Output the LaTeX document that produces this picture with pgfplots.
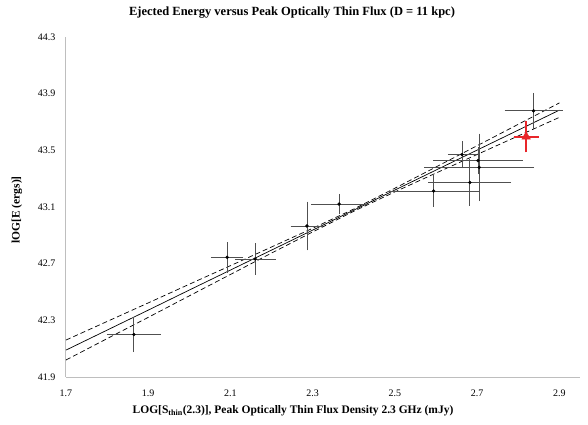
\documentclass[border=0pt]{standalone}
\usepackage{fontspec}
\setmainfont{Liberation Serif}
\usepackage{pgfplots}
\usepackage{pgfplotstable}
\pgfplotsset{compat=1.18}

\pgfplotstableread{
x      y       ex      ey
1.865  42.200  0.057   0.100
2.092  42.745  0.031   0.083
2.160  42.733  0.041   0.085
2.286  42.966  0.031   0.148
2.364  43.121  0.0585  0.047
2.594  43.213  0.103   0.088
2.682  43.273  0.092   0.140
2.663  43.470  0.026   0.070
2.702  43.427  0.100   0.070
2.705  43.380  0.125   0.213
2.837  43.779  0.062   0.102
}\datatable

\pgfplotstableread{
x      y       ex      ey
2.819  43.596  0.022   0.085
}\redtable

\pgfplotstableread{
x    fit     up      lo
1.7  42.090  42.161  42.020
1.8  42.231  42.292  42.171
1.9  42.372  42.423  42.321
2.0  42.514  42.555  42.473
2.1  42.655  42.686  42.624
2.2  42.796  42.818  42.775
2.3  42.937  42.950  42.924
2.4  43.078  43.086  43.070
2.5  43.220  43.233  43.207
2.6  43.361  43.383  43.340
2.7  43.502  43.533  43.471
2.8  43.643  43.684  43.602
2.9  43.784  43.835  43.733
}\fittable

\definecolor{axgray}{RGB}{190,190,190}
\definecolor{ebgray}{RGB}{80,80,80}
\definecolor{myred}{RGB}{232,38,42}

\begin{document}
\begin{tikzpicture}
\path[use as bounding box] (-66pt,-47pt) rectangle (522pt,377pt);
\begin{axis}[
  at={(0pt,0pt)}, anchor=south west,
  scale only axis,
  width=514pt, height=340pt,
  xmin=1.7, xmax=2.95, ymin=41.9, ymax=44.3,
  xtick={1.7,1.9,2.1,2.3,2.5,2.7,2.9},
  ytick={41.9,42.3,42.7,43.1,43.5,43.9,44.3},
  xticklabels={1.7,1.9,2.1,2.3,2.5,2.7,2.9},
  yticklabels={41.9,42.3,42.7,43.1,43.5,43.9,44.3},
  axis x line*=bottom, axis y line*=left,
  axis line style={axgray, line width=1pt},
  major tick length=0pt,
  tick label style={font=\fontsize{10}{12}\selectfont},
  xticklabel style={yshift=-9pt},
  yticklabel style={xshift=-7pt},
  clip=false,
]
\addplot[black, line width=0.7pt] table[x=x, y=fit] {\fittable};
\addplot[black, line width=0.7pt, dash pattern=on 5pt off 3pt] table[x=x, y=up] {\fittable};
\addplot[black, line width=0.7pt, dash pattern=on 5pt off 3pt] table[x=x, y=lo] {\fittable};

\addplot[only marks, mark=*, mark size=1.5pt, black,
  error bars/.cd, x dir=both, x explicit, y dir=both, y explicit,
  error bar style={ebgray, line width=0.9pt},
  error mark options={ebgray, mark size=3.5pt, line width=0.9pt}]
  table[x=x, y=y, x error=ex, y error=ey] {\datatable};

\addplot[only marks, mark=triangle*, mark size=5pt, myred,
  error bars/.cd, x dir=both, x explicit, y dir=both, y explicit,
  error bar style={myred, line width=1.8pt},
  error mark options={myred, mark size=3.5pt, line width=1.8pt}]
  table[x=x, y=y, x error=ex, y error=ey] {\redtable};
\end{axis}
\node[font=\bfseries\fontsize{12.5}{15}\selectfont] at (226pt,364pt) {Ejected Energy versus Peak Optically Thin Flux (D = 11 kpc)};
\node[font=\bfseries\fontsize{11.5}{14}\selectfont] at (227pt,-34pt) {LOG[S\textsubscript{thin}(2.3)], Peak Optically Thin Flux Density 2.3 GHz (mJy)};
\node[font=\bfseries\fontsize{11.5}{14}\selectfont, rotate=90] at (-49pt,167pt) {lOG[E (ergs)]};
\end{tikzpicture}
\end{document}
